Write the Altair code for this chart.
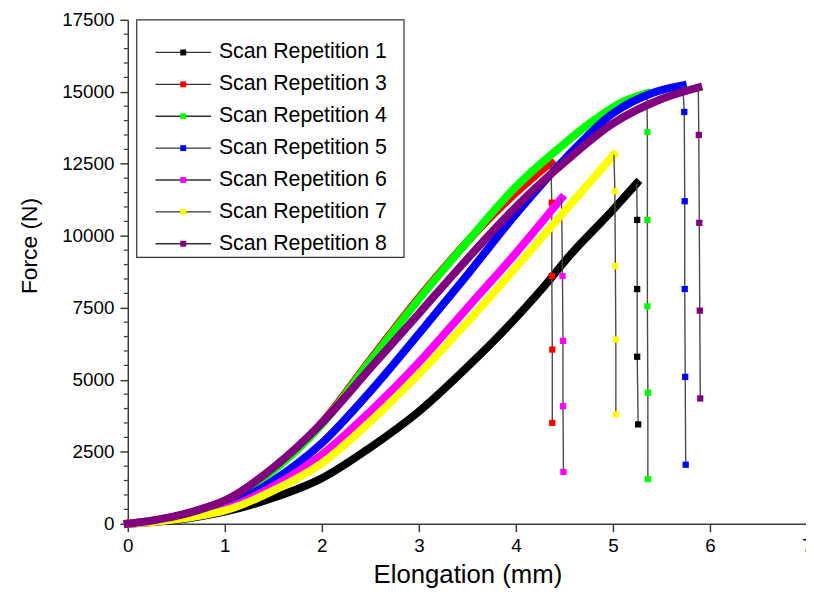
import altair as alt
import pandas as pd

series = ["Scan Repetition 1", "Scan Repetition 3", "Scan Repetition 4",
          "Scan Repetition 5", "Scan Repetition 6", "Scan Repetition 7",
          "Scan Repetition 8"]
colors = ["#000000", "#ff0000", "#00ff00", "#0000ff", "#ff00ff", "#ffff00", "#800080"]

# loading curves: elongation (mm) and force (N)
rep1_x = [0, 0.25, 0.5, 0.75, 1.0, 1.5, 2.0, 2.5, 3.0, 3.5, 4.0, 4.37, 4.5, 5.0, 5.245]
rep1_f = [0, 60, 140, 260, 420, 900, 1580, 2650, 3900, 5450, 7150, 8560, 9100, 10900, 11820]
rep3_x = [0, 0.25, 0.5, 0.75, 1.0, 1.5, 2.0, 2.5, 3.0, 3.5, 4.0, 4.36]
rep3_f = [0, 105, 260, 495, 800, 1900, 3500, 5700, 7850, 9800, 11500, 12550]
rep4_x = [0, 0.25, 0.5, 0.75, 1.0, 1.5, 2.0, 2.5, 3.0, 3.5, 4.0, 4.5, 4.8, 5.1, 5.35]
rep4_f = [0, 100, 250, 480, 780, 1850, 3450, 5650, 7800, 9800, 11700, 13200, 14000, 14650, 14950]
rep5_x = [0, 0.25, 0.5, 0.75, 1.0, 1.5, 2.0, 2.5, 3.0, 3.5, 4.0, 4.5, 5.0, 5.4, 5.72]
rep5_f = [0, 80, 190, 360, 580, 1500, 2800, 4600, 6600, 8650, 10750, 12650, 14250, 14950, 15220]
rep6_x = [0, 0.25, 0.5, 0.75, 1.0, 1.5, 2.0, 2.5, 3.0, 3.5, 4.0, 4.47]
rep6_f = [0, 70, 170, 320, 520, 1300, 2400, 3900, 5600, 7500, 9400, 11300]
rep7_x = [0, 0.25, 0.5, 0.75, 1.0, 1.5, 2.0, 2.5, 3.0, 3.5, 4.0, 4.5, 5.01]
rep7_f = [0, 60, 150, 280, 460, 1150, 2100, 3550, 5200, 7000, 8900, 10850, 12820]
rep8_x = [0, 0.25, 0.5, 0.75, 1.0, 1.5, 2.0, 2.5, 3.0, 3.5, 4.0, 4.5, 5.0, 5.5, 5.88]
rep8_f = [0, 110, 270, 500, 800, 1950, 3500, 5400, 7300, 9200, 11000, 12550, 13900, 14750, 15150]

# points recorded after failure (force drop)
rep1_drop_x = [5.25, 5.25, 5.25, 5.26]
rep1_drop_f = [10550, 8150, 5800, 3450]
rep3_drop_x = [4.37, 4.37, 4.375, 4.375]
rep3_drop_f = [11150, 8600, 6050, 3500]
rep4_drop_x = [5.355, 5.355, 5.355, 5.36, 5.36]
rep4_drop_f = [13600, 10550, 7550, 4550, 1550]
rep5_drop_x = [5.735, 5.74, 5.74, 5.745, 5.75]
rep5_drop_f = [14300, 11200, 8150, 5100, 2050]
rep6_drop_x = [4.48, 4.485, 4.485, 4.49]
rep6_drop_f = [8600, 6350, 4080, 1800]
rep7_drop_x = [5.02, 5.025, 5.03, 5.03]
rep7_drop_f = [11550, 8950, 6400, 3800]
rep8_drop_x = [5.885, 5.89, 5.895, 5.9]
rep8_drop_f = [13500, 10450, 7400, 4350]

x_ticks = [0, 1, 2, 3, 4, 5, 6, 7]
y_ticks = [0, 2500, 5000, 7500, 10000, 12500, 15000, 17500]
y_minor_ticks = [v for v in range(0, 17501, 500) if v % 2500 != 0]

curves = [(rep1_x, rep1_f), (rep3_x, rep3_f), (rep4_x, rep4_f), (rep5_x, rep5_f),
          (rep6_x, rep6_f), (rep7_x, rep7_f), (rep8_x, rep8_f)]
drops = [(rep1_drop_x, rep1_drop_f), (rep3_drop_x, rep3_drop_f), (rep4_drop_x, rep4_drop_f),
         (rep5_drop_x, rep5_drop_f), (rep6_drop_x, rep6_drop_f), (rep7_drop_x, rep7_drop_f),
         (rep8_drop_x, rep8_drop_f)]

FONT = "Liberation Sans"
AX = "#3a3a3a"

xs = alt.Scale(domain=[0, 7], range=[0, 686], nice=False, zero=False)
ys = alt.Scale(domain=[0, 17500], nice=False, zero=False)

x_axis = alt.Axis(values=x_ticks, format="d", title="Elongation (mm)",
                  grid=False, tickSize=8, tickWidth=1.5, tickColor=AX,
                  domainColor=AX, domainWidth=1.5, labelFont=FONT, labelFontSize=19,
                  labelColor="#000", labelPadding=5, labelFlush=False,
                  titleFont=FONT, titleFontSize=26, titleFontWeight="normal",
                  titleColor="#000", titlePadding=6)
y_axis = alt.Axis(values=y_ticks, format="d", title="Force (N)",
                  grid=False, tickSize=8, tickWidth=1.5, tickColor=AX,
                  domainColor=AX, domainWidth=1.5, labelFont=FONT, labelFontSize=19,
                  labelColor="#000", labelPadding=6, labelFlush=False,
                  titleFont=FONT, titleFontSize=23, titleFontWeight="normal",
                  titleColor="#000", titleAngle=-90, titleAlign="center",
                  titleBaseline="middle", titleX=-99, titleY=228)

X = alt.X("x:Q", scale=xs, axis=x_axis)
Y = alt.Y("f:Q", scale=ys, axis=y_axis)

# minor ticks on the force axis
minor = alt.Chart(pd.DataFrame({"f": y_minor_ticks})).mark_rule(
    color=AX, strokeWidth=1.3).encode(
    x=alt.value(-4), x2=alt.value(0), y=Y)

layers = []
for i, (name, col) in enumerate(zip(series, colors)):
    cx, cf = curves[i]
    dx, df_ = drops[i]
    cdf = pd.DataFrame({"x": cx, "f": cf})
    ldf = pd.DataFrame({"x": [cx[-1]] + dx, "f": [cf[-1]] + df_, "o": list(range(len(dx) + 1))})
    pdf = pd.DataFrame({"x": dx, "f": df_})
    curve = alt.Chart(cdf).mark_line(strokeWidth=8, strokeCap="square", strokeJoin="round",
                                     interpolate="monotone", color=col).encode(
        x=X, y=Y, order="x:Q")
    dline = alt.Chart(ldf).mark_line(strokeWidth=1.4, color="#4a4a4a").encode(
        x=X, y=Y, order="o:Q")
    dpts = alt.Chart(pdf).mark_square(size=40, opacity=1, color=col, filled=True).encode(
        x=X, y=Y)
    layers += [curve, dline, dpts]

# legend (drawn inside the plot, Origin style)
leg = pd.DataFrame({"s": series, "i": list(range(len(series)))})
cscale = alt.Scale(domain=series, range=colors)
box = alt.Chart(pd.DataFrame({"a": [0]})).mark_rect(fill="white", stroke="#333",
                                                    strokeWidth=1.2).encode(
    x=alt.value(9), x2=alt.value(279), y=alt.value(0), y2=alt.value(240))
lbase = alt.Chart(leg).transform_calculate(py="33 + datum.i * 32.2")
lrule = lbase.mark_rule(color="#333", strokeWidth=1.3).encode(
    x=alt.value(28), x2=alt.value(84), y=alt.Y("py:Q", scale=None, axis=None))
lsym = lbase.mark_square(size=36, opacity=1, filled=True).encode(
    x=alt.value(56), y=alt.Y("py:Q", scale=None, axis=None),
    color=alt.Color("s:N", scale=cscale, legend=None))
ltext = lbase.mark_text(align="left", baseline="middle", font=FONT, fontSize=21.5,
                        color="#000").encode(
    x=alt.value(92), y=alt.Y("py:Q", scale=None, axis=None), text="s:N")

chart = alt.layer(minor, *layers, box, lrule, lsym, ltext).properties(
    width=685, height=509, autosize="none", background="white",
    padding={"left": 121, "top": 9, "right": 0, "bottom": 64}
).configure_view(stroke=None)

chart.save("out.html", embed_options={"renderer": "svg", "actions": False})
